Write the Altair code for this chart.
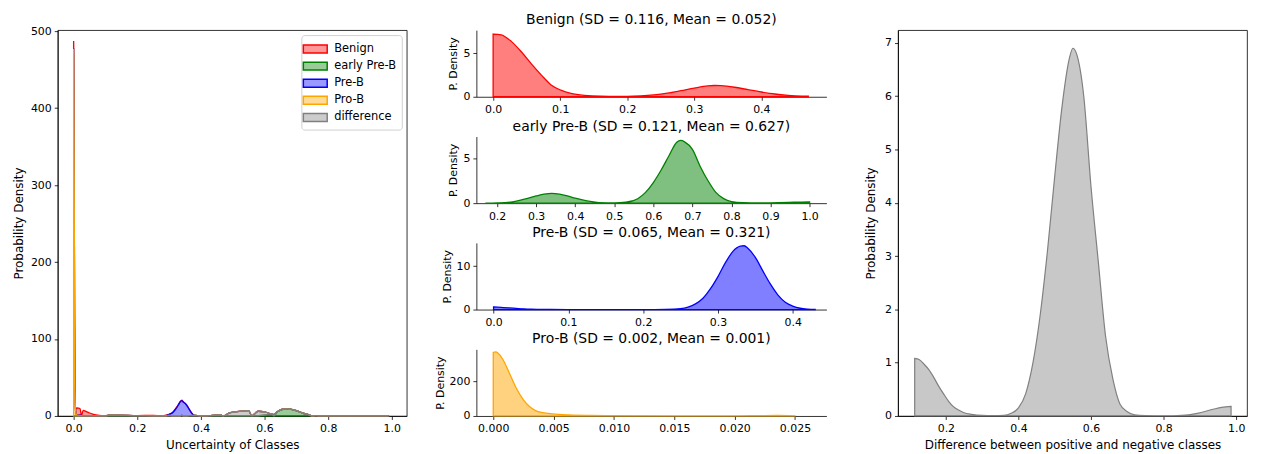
import altair as alt
import pandas as pd

# ---------------- left panel: all classes overlaid ----------------
classes = ["Benign", "early Pre-B", "Pre-B", "Pro-B", "difference"]
solid = ["#ff0000", "#008000", "#0000ff", "#ffa500", "#808080"]
fill_l = ["rgba(255,0,0,0.4)", "rgba(0,128,0,0.4)", "rgba(0,0,255,0.4)",
          "rgba(255,165,0,0.4)", "rgba(128,128,128,0.4)"]

L_benign_x = [0, 0.01, 0.02, 0.03, 0.04, 0.05, 0.06, 0.07, 0.08, 0.09, 0.10, 0.15, 0.20, 0.25, 0.29, 0.32, 0.34]
L_benign_y = [9.5, 9.6, 8.8, 7.3, 5.6, 3.8, 2.4, 1.3, 0.6, 0.3, 0.15, 0.05, 0.1, 0.4, 0.8, 1.0, 0.9]

L_early_x = [0.20, 0.25, 0.30, 0.34, 0.38, 0.42, 0.47, 0.52, 0.56, 0.58, 0.60, 0.62, 0.64, 0.66, 0.67, 0.68, 0.70, 0.72, 0.74, 0.76, 0.78, 0.82, 0.87, 0.93, 0.98]
L_early_y = [0.0, 0.2, 0.6, 0.8, 0.6, 0.3, 0.05, 0.05, 0.15, 0.3, 1.0, 2.8, 5.6, 8.7, 9.2, 8.9, 6.8, 3.8, 1.5, 0.45, 0.1, 0.03, 0.02, 0.06, 0.15]

L_preb_x = [0, 0.02, 0.05, 0.10, 0.28, 0.29, 0.30, 0.31, 0.32, 0.33, 0.335, 0.34, 0.345, 0.35]
L_preb_y = [0.6, 0.4, 0.05, 0.0, 0.0, 0.3, 1.5, 4.0, 8.5, 15.0, 18.5, 19.0, 18.0, 16.5]

L_prob_x = [0, 0.0005, 0.001, 0.002, 0.003, 0.004, 0.006, 0.01, 0.02, 0.025]
L_prob_y = [477, 470, 420, 280, 130, 45, 8, 1, 0.5, 0.5]

L_diff_x = [0.115, 0.15, 0.20, 0.25, 0.30, 0.40, 0.43, 0.46, 0.49, 0.52, 0.55, 0.58, 0.60, 0.63, 0.66, 0.70, 0.75, 0.85, 0.92, 0.99]
L_diff_y = [1.3, 1.0, 0.4, 0.1, 0.0, 0.0, 0.4, 1.8, 4.0, 6.0, 7.0, 5.8, 4.2, 1.8, 0.5, 0.05, 0.0, 0.0, 0.05, 0.2]

# ---------------- middle panels ----------------
benign_x = [0, 0.012, 0.027, 0.042, 0.057, 0.072, 0.086, 0.101, 0.116, 0.136, 0.16, 0.19, 0.20, 0.22, 0.24, 0.26, 0.28, 0.30, 0.32, 0.33, 0.34, 0.36, 0.38, 0.40, 0.42, 0.44, 0.46, 0.47]
benign_y = [7.25, 7.15, 6.4, 5.2, 3.8, 2.5, 1.4, 0.76, 0.38, 0.15, 0.06, 0.05, 0.05, 0.1, 0.22, 0.42, 0.7, 1.0, 1.25, 1.3, 1.28, 1.1, 0.82, 0.55, 0.32, 0.17, 0.08, 0.06]

early_x = [0.17, 0.20, 0.24, 0.27, 0.30, 0.32, 0.34, 0.36, 0.38, 0.40, 0.43, 0.46, 0.50, 0.53, 0.56, 0.58, 0.60, 0.62, 0.64, 0.66, 0.67, 0.68, 0.70, 0.72, 0.74, 0.76, 0.78, 0.80, 0.83, 0.87, 0.92, 0.96, 1.0]
early_y = [0.0, 0.03, 0.15, 0.45, 0.8, 1.0, 1.1, 1.0, 0.8, 0.55, 0.25, 0.07, 0.02, 0.1, 0.5, 1.2, 2.3, 3.7, 5.3, 6.8, 7.0, 6.85, 6.0, 4.1, 2.5, 1.2, 0.5, 0.18, 0.05, 0.02, 0.05, 0.1, 0.15]

preb_x = [0, 0.01, 0.02, 0.03, 0.04, 0.05, 0.07, 0.10, 0.15, 0.20, 0.23, 0.25, 0.26, 0.27, 0.28, 0.29, 0.30, 0.31, 0.32, 0.33, 0.335, 0.34, 0.35, 0.36, 0.37, 0.38, 0.39, 0.40, 0.41, 0.42, 0.43]
preb_y = [0.6, 0.5, 0.4, 0.28, 0.16, 0.08, 0.02, 0.0, 0.0, 0.0, 0.05, 0.2, 0.55, 1.3, 2.6, 4.8, 7.6, 10.8, 13.4, 14.6, 14.7, 14.1, 12.0, 8.9, 5.9, 3.4, 1.7, 0.8, 0.3, 0.1, 0.03]

prob_x = [0, 0.0002, 0.0004, 0.0008, 0.0013, 0.0019, 0.0025, 0.003, 0.0035, 0.0041, 0.0049, 0.0063, 0.008, 0.01, 0.015, 0.02, 0.022, 0.0235, 0.025]
prob_y = [370, 373, 365, 329, 255, 163, 94, 55, 31, 19, 12, 6, 3, 1.5, 0.5, 0.5, 2, 3, 1]

# ---------------- right panel ----------------
diff_x = [0.114, 0.126, 0.14, 0.153, 0.167, 0.18, 0.195, 0.207, 0.22, 0.235, 0.25, 0.271, 0.30, 0.33, 0.36, 0.38, 0.40, 0.42, 0.44, 0.46, 0.48, 0.50, 0.52, 0.54, 0.55, 0.56, 0.58, 0.60, 0.62, 0.64, 0.66, 0.68, 0.70, 0.72, 0.75, 0.80, 0.85, 0.893, 0.939, 0.96, 0.986]
diff_y = [1.08, 1.06, 0.97, 0.87, 0.72, 0.56, 0.40, 0.28, 0.18, 0.11, 0.06, 0.03, 0.01, 0.005, 0.01, 0.05, 0.15, 0.42, 1.0, 1.9, 3.1, 4.5, 5.8, 6.7, 6.9, 6.8, 6.0, 4.3, 2.9, 1.5, 0.7, 0.22, 0.08, 0.02, 0.005, 0.0, 0.01, 0.05, 0.13, 0.16, 0.18]

FONT = "DejaVu Sans"
TITLE_KW = dict(fontSize=14, font=FONT, fontWeight="normal", color="#000", offset=3)
BOX = alt.ViewBackground(stroke="#000", strokeWidth=0.8)
XAX = dict(labelPadding=3.5, titlePadding=5.5)

# ---------- left chart ----------
rows = []
for name, xs, ys in [("Benign", L_benign_x, L_benign_y), ("early Pre-B", L_early_x, L_early_y),
                     ("Pre-B", L_preb_x, L_preb_y), ("Pro-B", L_prob_x, L_prob_y),
                     ("difference", L_diff_x, L_diff_y)]:
    for xv, yv in zip(xs, ys):
        rows.append({"cls": name, "x": xv, "y": yv})
left_df = pd.DataFrame(rows)

leg = dict(title=None, orient="top-right", offset=5, padding=5,
           strokeColor="#d0d0d0", fillColor="white", cornerRadius=3,
           symbolType="M-1.5,-0.5H1.5V0.5H-1.5Z", symbolSize=256,
           symbolStrokeWidth=1.5, labelFontSize=11.5, labelFont=FONT,
           labelColor="#000", rowPadding=1.2, labelOffset=10)

left = alt.Chart(left_df).mark_area(interpolate="monotone", strokeWidth=1.3).encode(
    x=alt.X("x:Q", scale=alt.Scale(domain=[-0.05, 1.047], nice=False, zero=False),
            axis=alt.Axis(values=[0, 0.2, 0.4, 0.6, 0.8, 1.0], format=".1f",
                          title="Uncertainty of Classes", **XAX)),
    y=alt.Y("y:Q", scale=alt.Scale(domain=[0, 501.3], nice=False),
            axis=alt.Axis(values=[0, 100, 200, 300, 400, 500], title="Probability Density",
                          titlePadding=5)),
    fill=alt.Fill("cls:N", scale=alt.Scale(domain=classes, range=fill_l), legend=alt.Legend(**leg)),
    stroke=alt.Stroke("cls:N", scale=alt.Scale(domain=classes, range=solid), legend=alt.Legend(**leg)),
).properties(width=351, height=388, view=BOX, title=alt.TitleParams(" ", **TITLE_KW))


# ---------- middle charts ----------
def panel(xs, ys, color, title, xdom, xticks, xfmt, ydom, yticks):
    df = pd.DataFrame({"x": xs, "y": ys})
    return alt.Chart(df).mark_area(interpolate="monotone", fill=color, fillOpacity=0.5,
                                   stroke=color, strokeWidth=1.3).encode(
        x=alt.X("x:Q", scale=alt.Scale(domain=xdom, nice=False, zero=False),
                axis=alt.Axis(values=xticks, format=xfmt, title=None, labelPadding=3.5)),
        y=alt.Y("y:Q", scale=alt.Scale(domain=ydom, nice=False),
                axis=alt.Axis(values=yticks, title="P. Density", titleFontSize=11)),
    ).properties(width=352, height=67, title=alt.TitleParams(title, **TITLE_KW))


m1 = panel(benign_x, benign_y, "#ff0000", "Benign (SD = 0.116, Mean = 0.052)",
           [-0.025, 0.497], [0, 0.1, 0.2, 0.3, 0.4], ".1f", [0, 7.7], [0, 5])
m2 = panel(early_x, early_y, "#008000", "early Pre-B (SD = 0.121, Mean = 0.627)",
           [0.147, 1.043], [0.2, 0.3, 0.4, 0.5, 0.6, 0.7, 0.8, 0.9, 1.0], ".1f", [0, 7.44], [0, 5])
m3 = panel(preb_x, preb_y, "#0000ff", "Pre-B (SD = 0.065, Mean = 0.321)",
           [-0.023, 0.445], [0, 0.1, 0.2, 0.3, 0.4], ".1f", [0, 15.35], [0, 10])
m4 = panel(prob_x, prob_y, "#ffa500", "Pro-B (SD = 0.002, Mean = 0.001)",
           [-0.0014, 0.0276], [0, 0.005, 0.01, 0.015, 0.02, 0.025], ".3f", [0, 388], [0, 200])

middle = alt.vconcat(m1, m2, m3, m4, spacing=40, bounds="flush")

# ---------- right chart ----------
right_df = pd.DataFrame({"x": diff_x, "y": diff_y})
right = alt.Chart(right_df).mark_area(interpolate="monotone", fill="#808080", fillOpacity=0.43,
                                      stroke="#808080", strokeWidth=1.2).encode(
    x=alt.X("x:Q", scale=alt.Scale(domain=[0.068, 1.030], nice=False, zero=False),
            axis=alt.Axis(values=[0.2, 0.4, 0.6, 0.8, 1.0], format=".1f",
                          title="Difference between positive and negative classes", **XAX)),
    y=alt.Y("y:Q", scale=alt.Scale(domain=[0, 7.24], nice=False),
            axis=alt.Axis(values=[0, 1, 2, 3, 4, 5, 6, 7], title="Probability Density",
                          titlePadding=7)),
).properties(width=351, height=388, view=BOX, title=alt.TitleParams(" ", **TITLE_KW))

inner = alt.hconcat(middle, right, spacing=38)
chart = alt.hconcat(left, inner, spacing=26).resolve_scale(
    fill="independent", stroke="independent"
).resolve_legend(fill="independent", stroke="independent").properties(
    padding={"left": 4, "top": -2, "right": 5, "bottom": 2}
).configure_view(stroke=None).configure_axis(
    labelFont=FONT, titleFont=FONT, labelFontSize=11, titleFontSize=12,
    titleFontWeight="normal", labelColor="#000", titleColor="#000",
    domainColor="#000", tickColor="#000", domainWidth=0.8, tickWidth=0.8,
    tickSize=3.5, labelPadding=3, titlePadding=4, grid=False,
).configure_legend(labelFont=FONT)

chart.save("out.html", embed_options={"renderer": "svg", "actions": False})
